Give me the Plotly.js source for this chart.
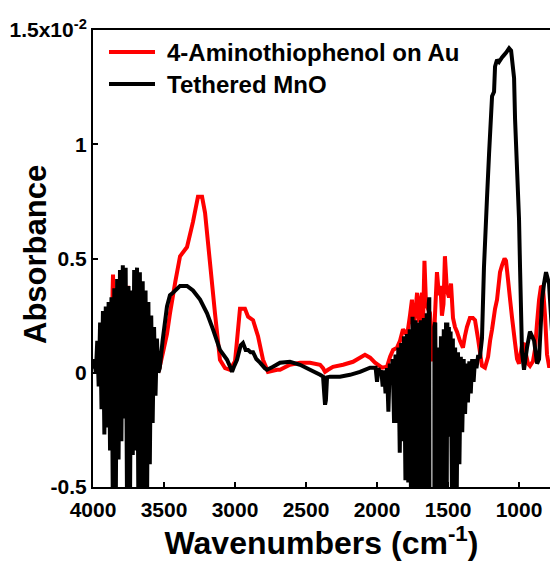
<!DOCTYPE html>
<html>
<head>
<meta charset="utf-8">
<script src="https://cdn.plot.ly/plotly-3.0.1.min.js"></script>
<style>html,body{margin:0;padding:0;background:#fff}#chart{width:550px;height:561px}</style>
</head>
<body>
<div id="chart"></div>
<script>
// Absorbance values in units of 1e-2
const seriesNames = ["4-Aminothiophenol on Au", "Tethered MnO"];

const redX = [4000,3970,3940,3900,3880,3868,3862,3859,3855,3850,3835,3800,3775,3762,3757,3754,3750,3745,3730,3700,3650,3600,3560,3535,3507,3479,3458,3420,3387,3338,3296,3261,3232,3211,3176,3141,3106,3070,3035,3000,2986,2965,2930,2908,2873,2838,2803,2768,2704,2683,2613,2542,2472,2401,2380,2366,2345,2310,2239,2169,2085,2049,2014,1965,1930,1908,1887,1859,1838,1817,1796,1782,1768,1754,1746,1732,1718,1704,1697,1683,1676,1666,1655,1641,1627,1613,1606,1592,1578,1564,1553,1543,1532,1522,1508,1493,1479,1465,1451,1437,1416,1395,1381,1367,1346,1325,1310,1289,1275,1261,1240,1218,1204,1190,1169,1155,1134,1120,1102,1092,1078,1063,1049,1028,1014,1000,993,979,965,951,937,923,902,888,873,859,845,831,817,803,789,775];
const redY = [0.026,0.04,0.05,0.06,0.07,0.12,0.36,0.43,0.30,0.10,0.06,0.05,0.04,0.12,0.33,0.38,0.30,0.08,0.05,0.04,0.04,0.035,0.02,0.013,0.09,0.17,0.26,0.40,0.51,0.55,0.66,0.77,0.77,0.70,0.48,0.26,0.057,0.02,0.013,0.05,0.14,0.28,0.28,0.245,0.23,0.16,0.057,0.004,0.013,0.013,0.035,0.044,0.044,0.035,0.02,0.004,0.013,0.026,0.035,0.048,0.079,0.066,0.044,0.022,0.026,0.07,0.10,0.11,0.14,0.19,0.17,0.19,0.25,0.32,0.20,0.25,0.35,0.22,0.30,0.35,0.22,0.49,0.30,0.28,0.26,0.10,0.05,0.25,0.44,0.34,0.38,0.25,0.30,0.51,0.36,0.33,0.39,0.24,0.20,0.18,0.14,0.11,0.16,0.20,0.24,0.24,0.23,0.15,0.09,0.03,0.022,0.07,0.14,0.19,0.28,0.32,0.44,0.47,0.50,0.49,0.41,0.32,0.24,0.13,0.06,0.04,0.07,0.12,0.13,0.08,0.04,0.03,0.05,0.10,0.22,0.32,0.38,0.37,0.25,0.08,0.03,0.03];

const blackX = [4000,3995,3990,3980,3970,3960,3950,3940,3930,3920,3910,3900,3890,3880,3870,3860,3850,3840,3830,3820,3810,3800,3790,3780,3770,3760,3750,3740,3730,3720,3710,3700,3690,3680,3670,3660,3650,3640,3630,3620,3610,3600,3590,3580,3570,3560,3550,3540,3530,3510,3479,3458,3437,3387,3338,3296,3246,3197,3155,3106,3056,3030,3021,3005,2986,2960,2944,2925,2908,2890,2873,2850,2824,2790,2775,2732,2683,2613,2542,2472,2401,2380,2372,2366,2360,2352,2331,2261,2190,2120,2049,2010,2000,1990,1980,1970,1960,1950,1940,1930,1920,1910,1900,1890,1880,1870,1860,1850,1840,1830,1820,1810,1800,1790,1780,1770,1760,1750,1740,1730,1720,1710,1700,1690,1680,1670,1660,1650,1640,1636,1632,1631,1596,1596,1590,1580,1570,1560,1550,1540,1530,1520,1514,1510,1505,1500,1494,1488,1482,1476,1470,1466,1460,1450,1440,1430,1420,1410,1400,1390,1380,1370,1360,1350,1340,1330,1320,1310,1300,1289,1275,1261,1247,1226,1211,1190,1176,1169,1155,1141,1120,1106,1092,1070,1056,1035,1028,1014,1000,993,979,965,944,923,894,873,859,838,824,810,789,768];
const blackY = [0.03,0.02,0.06,0.0,0.14,-0.06,0.22,-0.16,0.27,-0.27,0.29,-0.24,0.31,-0.34,0.33,-0.62,0.37,-0.62,0.41,-0.38,0.45,-0.30,0.47,-0.20,0.46,-0.62,0.38,-0.62,0.36,-0.36,0.45,-0.34,0.46,-0.62,0.44,-0.62,0.40,-0.62,0.36,-0.62,0.31,-0.40,0.25,-0.22,0.20,-0.10,0.15,0.0,0.02,0.14,0.29,0.34,0.35,0.38,0.38,0.36,0.32,0.26,0.19,0.10,0.057,0.02,0.004,0.03,0.057,0.12,0.13,0.10,0.10,0.09,0.09,0.06,0.044,0.02,0.013,0.026,0.044,0.048,0.035,0.013,-0.009,-0.017,-0.09,-0.14,-0.12,-0.02,-0.017,-0.017,-0.009,0.004,0.022,0.022,-0.04,0.02,0.0,0.01,-0.06,0.01,-0.09,0.02,-0.17,0.04,-0.05,0.06,-0.22,0.08,-0.22,0.11,-0.35,0.13,-0.30,0.16,-0.47,0.17,-0.48,0.19,-0.62,0.245,-0.62,0.23,-0.62,0.22,-0.62,0.23,-0.62,0.24,-0.62,0.26,-0.62,0.30,0.33,-0.70,-0.70,0.20,0.22,-0.62,0.11,-0.62,0.16,-0.62,0.19,-0.62,0.22,-0.70,0.22,-0.28,0.20,-0.28,0.18,-0.28,-0.70,0.15,-0.62,0.11,-0.62,0.09,-0.40,0.07,-0.26,0.06,-0.18,0.04,-0.13,0.05,-0.09,0.06,-0.04,0.06,0.02,0.07,0.07,0.15,0.46,0.76,0.96,1.21,1.23,1.34,1.37,1.36,1.38,1.39,1.40,1.42,1.41,1.29,1.11,0.89,0.67,0.46,0.09,0.013,0.11,0.18,0.14,0.04,0.06,0.32,0.39,0.44,0.39,0.18];

const xTickVals = [4000,3500,3000,2500,2000,1500,1000];
const yTickVals = [-0.5,0,0.5,1,1.5];
const yTickText = ["-0.5","0","0.5","1","1.5x10<sup>-2</sup>"];

const FONT = "Liberation Sans, Arial, sans-serif";
const colors = ["#ff0000", "#000000"];

const traces = [
  {x: redX, y: redY, type: "scatter", mode: "lines", name: seriesNames[0],
   line: {color: colors[0], width: 4, simplify: false}},
  {x: blackX, y: blackY, type: "scatter", mode: "lines", name: seriesNames[1],
   line: {color: colors[1], width: 4, simplify: false}}
];

// manual legend (paper coords); plot area 93..550 x 30..487
function px2paperX(p){return (p-93)/457;}
function px2paperY(p){return (487-p)/457;}
const legendRowsPx = [52, 84];
const shapes = legendRowsPx.map((r,i)=>({type:"line", xref:"paper", yref:"paper",
  x0:px2paperX(109), x1:px2paperX(155), y0:px2paperY(r), y1:px2paperY(r),
  line:{color:colors[i], width:4}}));
const annotations = legendRowsPx.map((r,i)=>({xref:"paper", yref:"paper",
  x:px2paperX(165), y:px2paperY(r), xanchor:"left", yanchor:"middle", showarrow:false,
  text:"<b>"+seriesNames[i]+"</b>", font:{family:FONT, size:24, color:"#000"}}));
annotations.push({xref:"paper", yref:"paper", x:px2paperX(35), y:px2paperY(255),
  xanchor:"center", yanchor:"middle", showarrow:false, textangle:-90,
  text:"<b>Absorbance</b>", font:{family:FONT, size:31, color:"#000"}});

const layout = {
  width: 550, height: 561,
  margin: {l: 93, r: 0, t: 30, b: 74},
  paper_bgcolor: "#fff", plot_bgcolor: "#fff",
  showlegend: false, hovermode: false,
  font: {family: FONT, color: "#000"},
  xaxis: {
    range: [4000, 782], autorange: false,
    tickvals: xTickVals, ticks: "inside", ticklen: 5, tickwidth: 2, tickcolor: "#000",
    showline: true, linewidth: 2, linecolor: "#000", mirror: true,
    showgrid: false, zeroline: false,
    tickfont: {family: FONT, size: 21, color: "#000", weight: "bold"},
    ticklabelstandoff: 3,
    title: {text: "<b>Wavenumbers (cm<sup>-1</sup>)</b>", font: {family: FONT, size: 32, color: "#000"}, standoff: 10},
    automargin: false
  },
  yaxis: {
    range: [-0.5, 1.5], autorange: false,
    tickvals: yTickVals, ticktext: yTickText,
    ticks: "inside", ticklen: 5, tickwidth: 2, tickcolor: "#000",
    showline: true, linewidth: 2, linecolor: "#000",
    showgrid: false, zeroline: false,
    tickfont: {family: FONT, size: 21, color: "#000", weight: "bold"},
    automargin: false
  },
  shapes: shapes,
  annotations: annotations
};

Plotly.newPlot("chart", traces, layout, {displayModeBar: false, staticPlot: true});
</script>
</body>
</html>
